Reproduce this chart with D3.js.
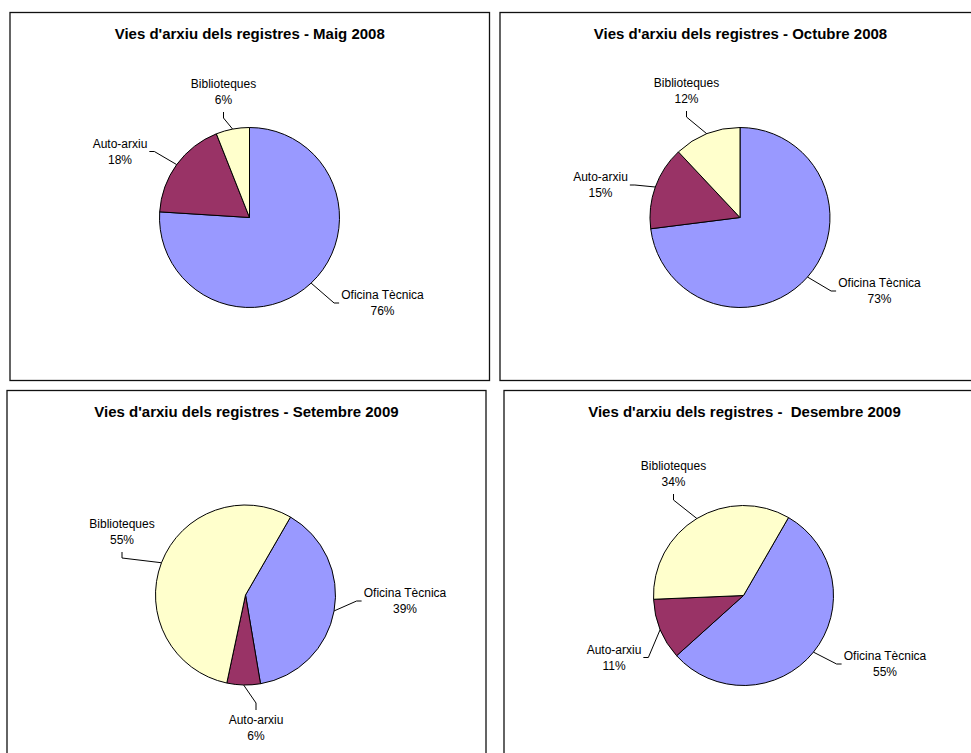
<!DOCTYPE html>
<html>
<head>
<meta charset="utf-8">
<script src="https://cdn.jsdelivr.net/npm/d3@7"></script>
<style>
  body { margin: 0; background: #fff; }
  svg { display: block; }
  text { font-family: "Liberation Sans", Arial, sans-serif; fill: #000; }
</style>
</head>
<body>
<svg id="chart" width="971" height="753"></svg>
<script>
// ------- data -------
const categories = ["Oficina Tècnica", "Auto-arxiu", "Biblioteques"];
const titles = [
  "Vies d'arxiu dels registres - Maig 2008",
  "Vies d'arxiu dels registres - Octubre 2008",
  "Vies d'arxiu dels registres - Setembre 2009",
  "Vies d'arxiu dels registres -  Desembre 2009"
];
const maig2008 = [76, 18, 6];
const octubre2008 = [73, 15, 12];
const setembre2009 = [39, 6, 55];
const desembre2009 = [55, 11, 34];
const colors = ["#9999ff", "#993366", "#ffffcc"];

// ------- layout -------
// box: [x, y, w, h]; labels: [dx, dy, side] from pie centre, side = where the leader attaches
const panels = [
  { title: titles[0], values: maig2008, box: [10, 12.5, 479.5, 368], cx: 249.5, cy: 217.5, start: 0,
    labels: [[133, 85.5, "l"], [-129.5, -66, "r"], [-26, -125.5, "b"]] },
  { title: titles[1], values: octubre2008, box: [500, 12.5, 481, 368], cx: 740, cy: 217.5, start: 0,
    labels: [[139.5, 73.5, "l"], [-139.5, -32.5, "r"], [-53.5, -126.5, "b"]] },
  { title: titles[2], values: setembre2009, box: [7, 390.5, 479, 380], cx: 245.5, cy: 595, start: 30,
    labels: [[159.5, 6, "l"], [10.5, 133, "t"], [-123.5, -63, "b"]] },
  { title: titles[3], values: desembre2009, box: [504, 390.5, 481, 380], cx: 743.5, cy: 595.5, start: 30,
    labels: [[141.5, 68.5, "l"], [-129.5, 62, "r"], [-70, -121.5, "b"]] }
];

const R = 90;
const svg = d3.select("#chart");

const pie = d3.pie().sort(null).value(d => d.value);
const arc = d3.arc().innerRadius(0).outerRadius(R);
const edge = d3.arc().innerRadius(R).outerRadius(R);

panels.forEach(p => {
  const [bx, by, bw, bh] = p.box;
  const g = svg.append("g");

  g.append("rect")
    .attr("x", bx).attr("y", by)
    .attr("width", bw).attr("height", bh)
    .attr("fill", "#fff")
    .attr("stroke", "#111")
    .attr("stroke-width", 1.3);

  g.append("text")
    .attr("x", bx + bw / 2)
    .attr("y", by + 26.5)
    .attr("text-anchor", "middle")
    .style("font-size", "15px")
    .style("font-weight", "bold")
    .style("white-space", "pre")
    .text(p.title);

  const data = categories.map((c, i) => ({ name: c, value: p.values[i], color: colors[i] }));
  const total = d3.sum(data, d => d.value);
  const a0 = p.start * Math.PI / 180;
  const arcs = pie.startAngle(a0).endAngle(a0 + 2 * Math.PI)(data);

  const pg = g.append("g").attr("transform", `translate(${p.cx},${p.cy})`);

  pg.selectAll("path.slice")
    .data(arcs)
    .enter()
    .append("path")
    .attr("class", "slice")
    .attr("d", arc)
    .attr("fill", d => d.data.color)
    .attr("stroke", "#000")
    .attr("stroke-width", 1);

  arcs.forEach((d, i) => {
    const [lx, ly, side] = p.labels[i];
    const t = pg.append("text")
      .attr("text-anchor", "middle")
      .style("font-size", "12px");
    t.append("tspan").attr("x", lx).attr("y", ly - 4).text(d.data.name);
    t.append("tspan").attr("x", lx).attr("y", ly + 12)
      .text(Math.round(d.data.value / total * 100) + "%");

    const w = t.node().getBBox().width;
    let end, elbow;
    if (side === "l") { end = [lx - w / 2 - 2, ly]; elbow = [end[0] - 5, ly]; }
    else if (side === "r") { end = [lx + w / 2 + 2, ly]; elbow = [end[0] + 5, ly]; }
    else if (side === "b") { end = [lx, ly + 20]; elbow = [lx, ly + 26]; }
    else { end = [lx, ly - 18]; elbow = [lx, ly - 25]; }

    const pt = edge.centroid(d);
    pg.append("path")
      .attr("d", d3.line()([end, elbow, pt]))
      .attr("fill", "none")
      .attr("stroke", "#000")
      .attr("stroke-width", 1);
  });
});
</script>
</body>
</html>
